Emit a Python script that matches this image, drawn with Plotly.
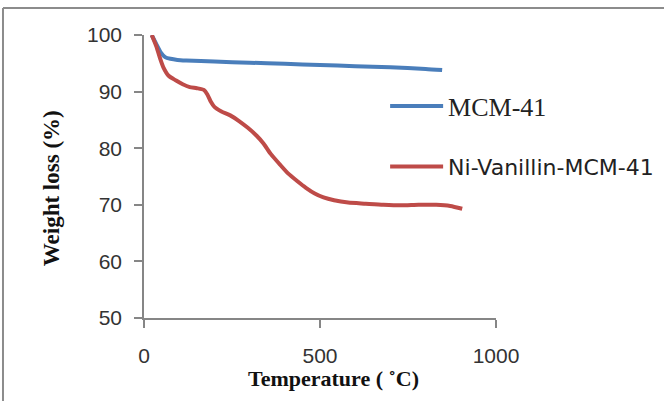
import plotly.graph_objects as go

# Data
temp_mcm = [22, 35, 48, 60, 75, 95, 120, 200, 300, 400, 500, 600, 700, 800, 847]
wt_mcm = [100, 98.4, 96.9, 96.1, 95.8, 95.6, 95.5, 95.3, 95.1, 94.9, 94.7, 94.5, 94.3, 94.0, 93.8]

temp_ni = [22, 35, 45, 55, 70, 90, 110, 130, 150, 170, 180, 190, 200, 220, 245, 270, 295,
           320, 340, 360, 385, 410, 435, 460, 485, 510, 540, 580, 630, 680, 730, 780, 830, 870, 904]
wt_ni = [100, 98.0, 96.0, 94.3, 92.8, 92.0, 91.3, 90.8, 90.6, 90.3, 89.5, 88.2, 87.3, 86.5, 85.8,
         84.8, 83.6, 82.2, 80.8, 79.0, 77.2, 75.5, 74.2, 73.0, 72.0, 71.3, 70.8, 70.4, 70.2, 70.0,
         69.9, 70.0, 70.0, 69.8, 69.3]

x_ticks = [0, 500, 1000]
y_ticks = [50, 60, 70, 80, 90, 100]

fig = go.Figure()
fig.add_trace(go.Scatter(x=temp_mcm, y=wt_mcm, mode="lines", name="MCM-41",
                         line=dict(color="#4a7ebb", width=4, shape="spline", smoothing=0.6),
                         legend="legend"))
fig.add_trace(go.Scatter(x=temp_ni, y=wt_ni, mode="lines", name="Ni-Vanillin-MCM-41",
                         line=dict(color="#be4b48", width=4, shape="spline", smoothing=0.6),
                         legend="legend2"))

axis_color = "#868686"
tick_font = dict(family="Liberation Sans", size=21, color="#333333")

fig.update_layout(
    width=664, height=401,
    margin=dict(l=144, r=168, t=35, b=83, autoexpand=False),
    paper_bgcolor="white", plot_bgcolor="white",
    xaxis=dict(range=[0, 1000], tickvals=x_ticks, showgrid=False, zeroline=False,
               showline=True, linecolor=axis_color, linewidth=1.5,
               ticks="outside", ticklen=8, tickcolor=axis_color, tickwidth=1.5,
               tickfont=tick_font, ticklabelstandoff=10),
    yaxis=dict(range=[50, 100], tickvals=y_ticks, showgrid=False, zeroline=False,
               showline=True, linecolor=axis_color, linewidth=1.5,
               ticks="outside", ticklen=8, tickcolor=axis_color, tickwidth=1.5,
               tickfont=tick_font, ticklabelstandoff=8),
    legend=dict(x=0.685, y=0.749, xanchor="left", yanchor="middle", itemwidth=53,
                bgcolor="rgba(0,0,0,0)",
                font=dict(family="Liberation Serif", size=26, color="#222222")),
    legend2=dict(x=0.685, y=0.535, xanchor="left", yanchor="middle", itemwidth=53,
                 bgcolor="rgba(0,0,0,0)",
                 font=dict(family="DejaVu Sans", size=22, color="#222222")),
    showlegend=True,
    annotations=[
        dict(text="<b>Temperature ( ˚C)</b>", xref="paper", yref="paper",
             x=0.537, y=-0.214, xanchor="center", yanchor="middle", showarrow=False,
             font=dict(family="Liberation Serif", size=22, color="#111111")),
        dict(text="<b>Weight loss (%)</b>", xref="paper", yref="paper",
             x=-0.264, y=0.459, xanchor="center", yanchor="middle", showarrow=False,
             textangle=-90,
             font=dict(family="Liberation Serif", size=23, color="#111111")),
    ],
    shapes=[
        dict(type="line", xref="paper", yref="paper", x0=-0.4006, x1=-0.4006,
             y0=-0.3, y1=1.0954, line=dict(color="#8c8c8c", width=2)),
        dict(type="line", xref="paper", yref="paper", x0=-0.4006, x1=1.5,
             y0=1.0954, y1=1.0954, line=dict(color="#8c8c8c", width=2)),
    ],
)

fig.write_html("out.html", config={"displayModeBar": False},
               post_script="document.body.style.margin='0px';")
